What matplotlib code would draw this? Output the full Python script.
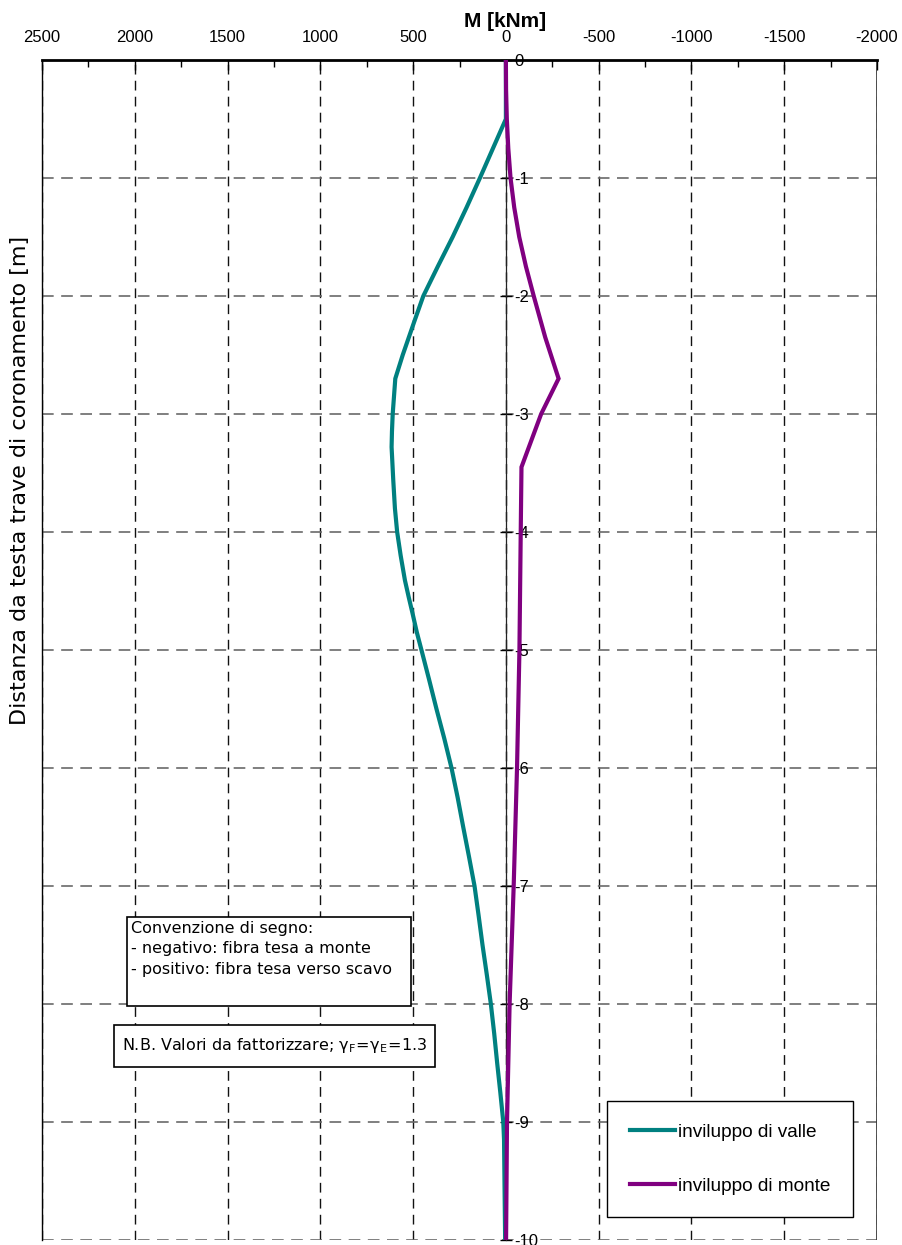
import matplotlib
matplotlib.use("Agg")
import matplotlib.pyplot as plt
from matplotlib.patches import Rectangle
from matplotlib.ticker import MultipleLocator

plt.rcParams["axes.unicode_minus"] = False

# Depth below the top of the capping beam [m] and bending moment envelopes [kNm]
depth_valle = [0, -0.5, -1.0, -1.25, -1.5, -1.75, -2.0, -2.2, -2.35, -2.5, -2.7,
               -3.0, -3.15, -3.28, -3.56, -3.8, -4.0, -4.2, -4.41, -4.55, -4.69,
               -4.85, -5.0, -5.25, -5.5, -5.75, -6.0, -6.25, -6.5, -6.75, -7.0,
               -7.25, -7.5, -7.75, -8.0, -8.25, -8.5, -8.75, -9.0, -9.15, -10.0]
m_valle = [0, 0, 140, 212, 287, 367, 445, 490, 523, 556, 596,
           610, 614, 616, 607, 598, 586, 567, 544, 524, 503,
           480, 455, 414, 374, 332, 293, 260, 230, 199, 169,
           147, 126, 103, 81, 63, 47, 30, 14, 10, 4]

depth_monte = [0, -0.25, -0.5, -0.75, -1.0, -1.25, -1.5, -1.75, -2.0, -2.35,
               -2.7, -3.0, -3.45, -4.0, -5.0, -6.0, -7.0, -8.0, -9.0, -10.0]
m_monte = [0, -1, -5, -13, -25, -45, -72, -108, -150, -212,
           -284, -190, -84, -80, -73, -60, -42, -20, -6, -1]

label_valle = "inviluppo di valle"
label_monte = "inviluppo di monte"
x_ticks = [2500, 2000, 1500, 1000, 500, 0, -500, -1000, -1500, -2000]
y_ticks = [0, -1, -2, -3, -4, -5, -6, -7, -8, -9, -10]

W, H = 903, 1245
fig = plt.figure(figsize=(W / 100, H / 100), dpi=100)
ax = fig.add_axes([42 / W, (H - 1240) / H, 835 / W, 1180 / H])

ax.set_xlim(2500, -2000)
ax.set_ylim(-10, 0)

# grid
ax.set_xticks(x_ticks)
ax.set_yticks(y_ticks)
ax.xaxis.set_minor_locator(MultipleLocator(250))
ax.grid(axis="x", which="major", color="#111111", lw=1.0, ls=(0, (7, 4.5)))
ax.grid(axis="y", which="major", color="#6a6a6a", lw=1.2, ls=(0, (7, 4.5)))
ax.set_axisbelow(True)

# curves
ax.plot(m_valle, depth_valle, color="#008080", lw=3, label=label_valle,
        solid_joinstyle="miter", zorder=4)
ax.plot(m_monte, depth_monte, color="#800080", lw=3, label=label_monte,
        solid_joinstyle="miter", zorder=4)

# axes: moment axis on top, depth axis along M = 0
ax.xaxis.tick_top()
ax.xaxis.set_label_position("top")
ax.tick_params(axis="x", which="major", direction="in", length=7, width=1,
               pad=11, labelsize=12)
ax.tick_params(axis="x", which="minor", direction="in", length=5, width=1)
for lab in ax.get_xticklabels():
    lab.set_family("Liberation Sans")

ax.spines["top"].set_linewidth(2)
ax.spines["bottom"].set_visible(False)
ax.spines["left"].set_linewidth(1)
ax.spines["right"].set_position(("data", 0))
ax.spines["right"].set_linewidth(0.9)
ax.spines["right"].set_color("#222222")
ax.axvline(-2000, color="#333333", lw=1.2, zorder=1)

ax.yaxis.tick_right()
ax.tick_params(axis="y", which="major", direction="inout", length=8, width=1,
               pad=2, labelsize=12)
ax.set_yticklabels([str(v) for v in y_ticks], family="Liberation Sans")

ax.set_xlabel("M [kNm]", fontsize=15, fontweight="bold",
              family="Liberation Sans")
ax.xaxis.set_label_coords(0.5545, 1.028)
ax.set_ylabel("Distanza da testa trave di coronamento [m]", fontsize=16,
              family="DejaVu Sans")
ax.yaxis.set_label_position("left")
ax.yaxis.set_label_coords(-0.014, 0.644)

# sign-convention note
ax.add_patch(Rectangle((0.1014, 0.1983), 0.3402, 0.0757, transform=ax.transAxes,
                       fill=True, facecolor="white", edgecolor="black", lw=1.2,
                       zorder=5))
ax.text(0.1066, 0.2705,
        "Convenzione di segno:\n- negativo: fibra tesa a monte\n"
        "- positivo: fibra tesa verso scavo",
        transform=ax.transAxes, ha="left", va="top", fontsize=11.5,
        family="DejaVu Sans", linespacing=1.45, zorder=6)

ax.add_patch(Rectangle((0.0866, 0.1469), 0.3841, 0.0353, transform=ax.transAxes,
                       fill=True, facecolor="white", edgecolor="black", lw=1.2,
                       zorder=5))
ax.text(0.2787, 0.1645,
        r"N.B. Valori da fattorizzare; $\mathregular{\gamma_F\!=\!\gamma_E\!=\!1.3}$",
        transform=ax.transAxes, ha="center", va="center", fontsize=11.5,
        family="DejaVu Sans", zorder=6)

leg = ax.legend(loc="upper left", bbox_to_anchor=(0.6766, 0.1178),
                frameon=True, fancybox=False, edgecolor="black", framealpha=1,
                handlelength=2.4, handletextpad=0.12,
                labelspacing=1.9, borderpad=1.2, borderaxespad=0,
                prop={"family": "Liberation Sans", "size": 13.7})
leg.get_frame().set_linewidth(1.0)
leg.set_zorder(6)

fig.savefig("out.png", dpi=100)
